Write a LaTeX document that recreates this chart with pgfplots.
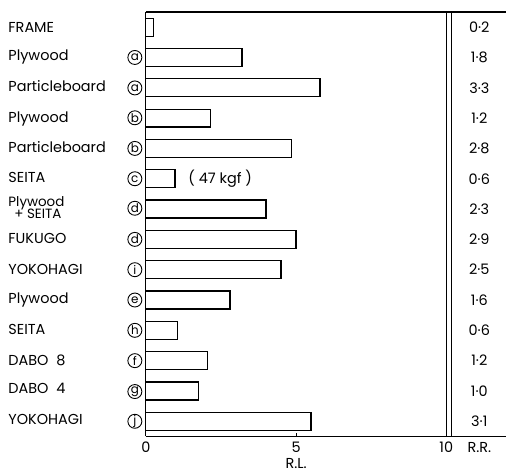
\documentclass[border=0pt]{standalone}
\usepackage{pgfplots}
\usepackage{pgfplotstable}
\pgfplotsset{compat=1.18}
\usepackage{fontspec}
\setmainfont{Poppins}
\newcommand\cl[1]{\tikz[baseline=(c.base)]\node[circle,draw,line width=0.9pt,inner sep=0pt,minimum size=14bp,font=\fontsize{12}{12}\selectfont](c){#1};}
\newcommand\lbl[2]{\makebox[134bp][l]{#1\hfill#2}}
\pgfplotstableread{
y rl xr rr
0 0.25 11.1 0·2
1 3.2 11.1 1·8
2 5.8 11.1 3·3
3 2.15 11.1 1·2
4 4.85 11.1 2·8
5 0.97 11.1 0·6
6 4.0 11.1 2·3
7 5.0 11.1 2·9
8 4.5 11.1 2·5
9 2.8 11.1 1·6
10 1.05 11.1 0·6
11 2.05 11.1 1·2
12 1.75 11.1 1·0
13 5.5 11.1 3·1
}\data
\begin{document}
\begin{tikzpicture}[font=\fontsize{14.5}{16}\selectfont]
\begin{axis}[
  scale only axis, width=361bp, height=425bp,
  xmin=0, xmax=12, ymin=-0.5, ymax=13.5, y dir=reverse,
  axis x line=box, axis y line=left,
  axis line style={line width=1.3pt, -},
  xtick={0,5,10}, xtick pos=bottom, tick align=inside,
  major tick length=3bp, xtick style={line width=1pt, black},
  extra x ticks={11.1}, extra x tick labels={R.R.},
  extra x tick style={major tick length=0pt},
  ytick={0,...,13}, ytick style={draw=none},
  yticklabels={
    {\lbl{FRAME}{}},
    {\lbl{Plywood}{\cl{a}}},
    {\lbl{Particleboard}{\cl{a}}},
    {\lbl{Plywood}{\cl{b}}},
    {\lbl{Particleboard}{\cl{b}}},
    {\lbl{SEITA}{\cl{c}}},
    {\lbl{\fontsize{13.5}{13}\selectfont\renewcommand\arraystretch{0.8}\begin{tabular}{@{}l@{}}Plywood\\[-1pt]\ \,+ SEITA\end{tabular}}{\cl{d}}},
    {\lbl{FUKUGO}{\cl{d}}},
    {\lbl{YOKOHAGI}{\cl{i}}},
    {\lbl{Plywood}{\cl{e}}},
    {\lbl{SEITA}{\cl{h}}},
    {\lbl{DABO\ \ 8}{\cl{f}}},
    {\lbl{DABO\ \ 4}{\cl{g}}},
    {\lbl{YOKOHAGI}{\cl{j}}}},
  ticklabel style={font=\fontsize{14.5}{16}\selectfont},
  xticklabel style={yshift=-2bp},
  /pgf/number format/assume math mode=true,
  xlabel={R.L.}, xlabel style={at={(ticklabel cs:0.4167)}, anchor=near ticklabel, yshift=1bp},
  clip=false,
]
\addplot[xbar, bar width=18bp, fill=white, draw=black, line width=1.2pt]
  table[x=rl, y=y]{\data};
\addplot[draw=none, nodes near coords, point meta=explicit symbolic,
  nodes near coords style={anchor=center}]
  table[x=xr, y=y, meta=rr]{\data};
\draw[line width=1.2pt] (axis cs:10,-0.5) -- (axis cs:10,13.5);
\draw[line width=1.2pt] (axis cs:10.17,-0.5) -- (axis cs:10.17,13.5);
\node[anchor=west] at (axis cs:1.3,5) {( 47 kgf )};
\end{axis}
\path ([xshift=-146bp,yshift=-37bp]current axis.south west) rectangle ([yshift=12bp]current axis.north east);
\end{tikzpicture}
\end{document}
